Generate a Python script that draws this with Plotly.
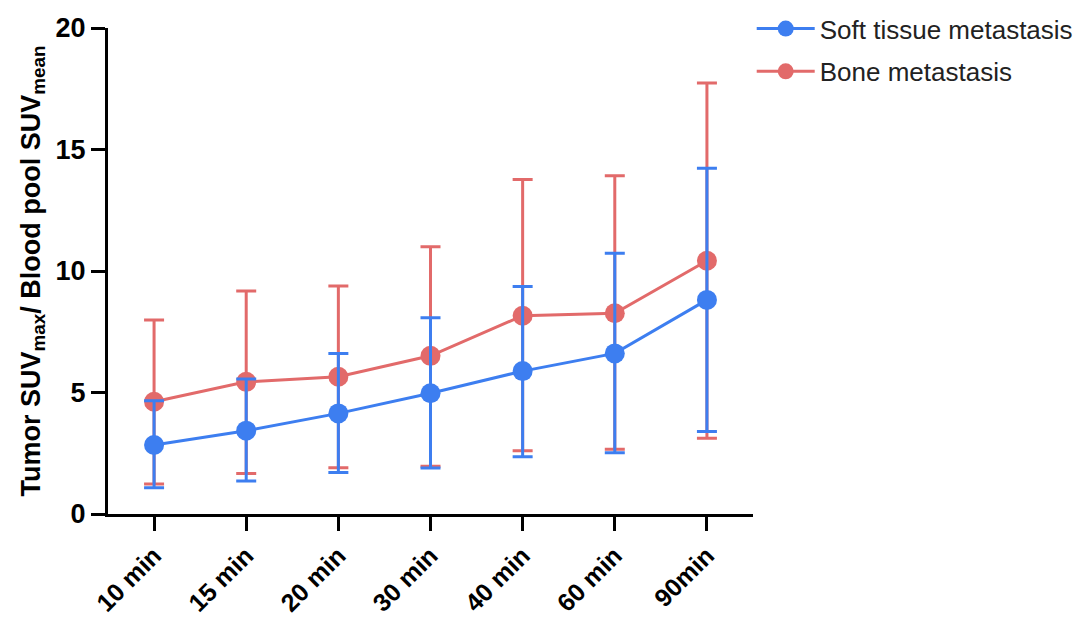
import plotly.graph_objects as go

categories = ["10 min", "15 min", "20 min", "30 min", "40 min", "60 min", "90min"]

soft_mean = [2.84, 3.43, 4.14, 4.97, 5.88, 6.61, 8.81]
soft_upper = [4.66, 5.56, 6.60, 8.08, 9.36, 10.73, 14.23]
soft_lower = [1.08, 1.36, 1.71, 1.89, 2.36, 2.52, 3.39]

bone_mean = [4.62, 5.44, 5.65, 6.51, 8.16, 8.26, 10.42]
bone_upper = [7.98, 9.18, 9.38, 11.00, 13.77, 13.92, 17.74]
bone_lower = [1.23, 1.67, 1.90, 1.97, 2.60, 2.66, 3.12]

BLUE = "#3D7EF0"
RED = "#E26A6A"
FONT = "Liberation Sans, Arial, Helvetica, sans-serif"

def trace(name, mean, upper, lower, color, rank, group):
    return go.Scatter(
        x=categories, y=mean, name=name, mode="lines+markers",
        legendrank=rank, legendgroup=group,
        line=dict(color=color, width=3),
        marker=dict(color=color, size=20),
        error_y=dict(type="data", symmetric=False,
                     array=[u - m for u, m in zip(upper, mean)],
                     arrayminus=[m - l for m, l in zip(mean, lower)],
                     color=color, thickness=3, width=10),
    )

fig = go.Figure()
fig.add_trace(trace("Bone metastasis", bone_mean, bone_upper, bone_lower, RED, 2, "bone"))
fig.add_trace(trace("Soft tissue metastasis", soft_mean, soft_upper, soft_lower, BLUE, 1, "soft"))

fig.update_layout(
    width=1080, height=618,
    margin=dict(l=108, r=327, t=28, b=104, autoexpand=False),
    plot_bgcolor="white", paper_bgcolor="white",
    font=dict(family=FONT, color="black"),
    legend=dict(x=0.998, y=1.047, xanchor="left", yanchor="top",
                traceorder="grouped", tracegroupgap=6, itemwidth=58,
                font=dict(size=26, color="#222222", family=FONT),
                bgcolor="rgba(0,0,0,0)"),
    xaxis=dict(type="category", range=[-0.5, 6.5], showgrid=False, zeroline=False,
               automargin=False,
               showline=True, linecolor="black", linewidth=3,
               ticks="outside", ticklen=14, tickwidth=3, tickcolor="black",
               tickangle=-45,
               tickfont=dict(size=25, family=FONT, weight="bold")),
    yaxis=dict(range=[0, 20], tickvals=[0, 5, 10, 15, 20], showgrid=False, zeroline=False,
               automargin=False,
               showline=True, linecolor="black", linewidth=3,
               ticks="outside", ticklen=14, tickwidth=3, tickcolor="black",
               tickfont=dict(size=27, family=FONT, weight="bold"),
               title=dict(text="Tumor SUV<sub>max</sub>/ Blood pool SUV<sub>mean</sub>",
                          font=dict(size=27, family=FONT, weight="bold"), standoff=8)),
)

fig.write_html("out.html")
